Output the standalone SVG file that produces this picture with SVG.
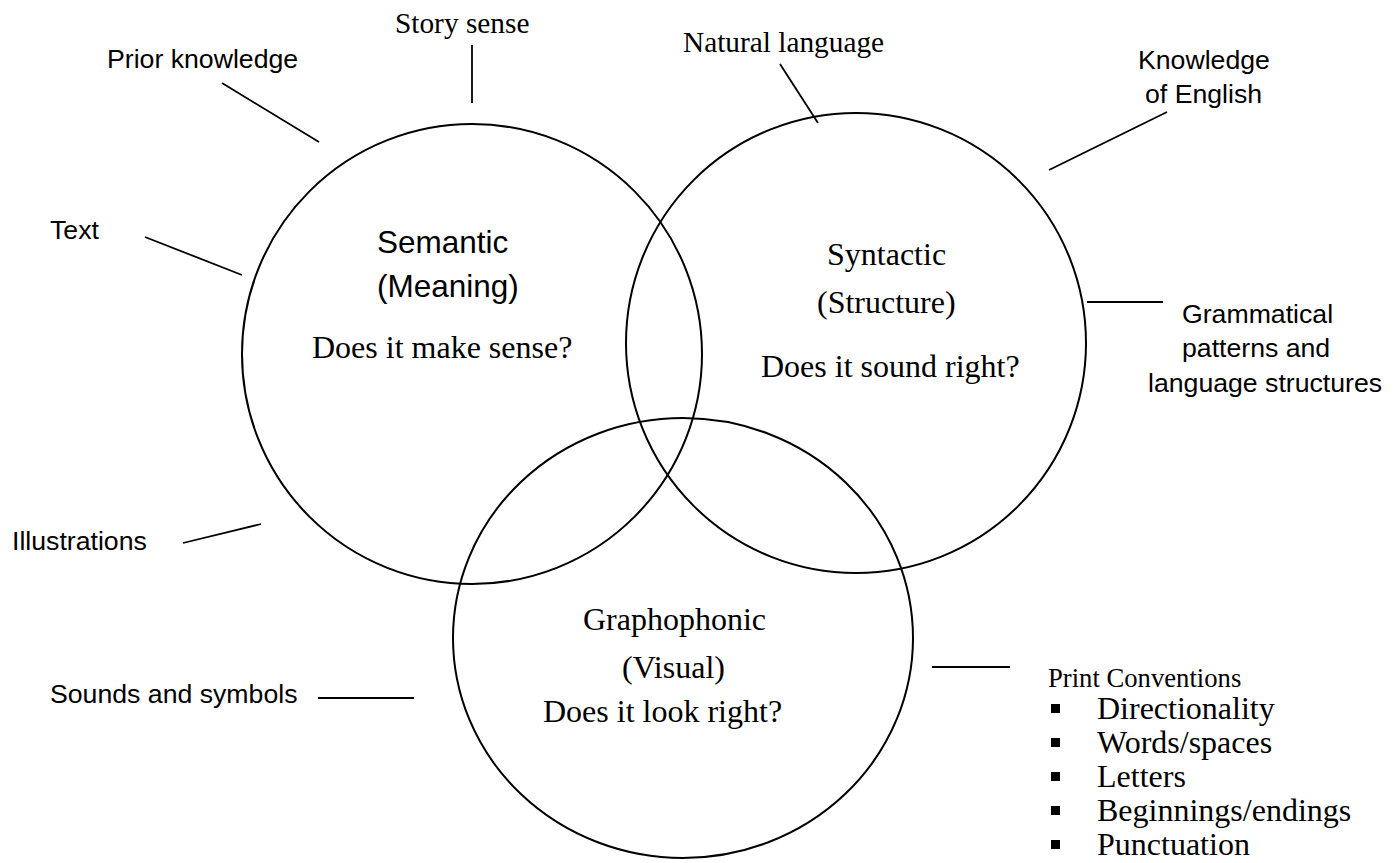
<svg xmlns="http://www.w3.org/2000/svg" width="1395" height="863" viewBox="0 0 1395 863">
<style>
.c{fill:none;stroke:#000;stroke-width:2}
.l{stroke:#000;stroke-width:1.8;fill:none}
.s{font-family:"Liberation Sans",Arial,sans-serif;fill:#000}
.t{font-family:"Liberation Serif","Times New Roman",serif;fill:#000}
.a{font-size:26.67px}
.b{font-size:32px}
.m{font-size:29.33px}
</style>
<rect width="1395" height="863" fill="#fff"/>
<g id="semantic">
<circle class="c" cx="472" cy="354" r="230"/>
<text class="s" x="377" y="253" style="font-size:31.5px">Semantic</text>
<text class="s" x="377" y="297" style="font-size:31.5px">(Meaning)</text>
<text class="t b" x="312" y="358">Does it make sense?</text>
</g>
<g id="syntactic">
<circle class="c" cx="856" cy="343" r="230"/>
<text class="t b" x="827" y="265">Syntactic</text>
<text class="t b" x="817" y="313">(Structure)</text>
<text class="t b" x="761" y="377">Does it sound right?</text>
</g>
<g id="graphophonic">
<ellipse class="c" cx="683" cy="638" rx="230" ry="220"/>
<text class="t b" x="583" y="630">Graphophonic</text>
<text class="t b" x="622" y="678">(Visual)</text>
<text class="t b" x="543" y="722">Does it look right?</text>
</g>
<g id="connectors">
<line class="l" x1="222" y1="83" x2="319" y2="142"/>
<line class="l" x1="472" y1="45" x2="472" y2="103"/>
<line class="l" x1="145" y1="237" x2="242" y2="275"/>
<line class="l" x1="183" y1="543" x2="261" y2="524"/>
<line class="l" x1="318" y1="698" x2="414" y2="698"/>
<line class="l" x1="780" y1="64" x2="818" y2="123"/>
<line class="l" x1="1167" y1="112" x2="1049" y2="170"/>
<line class="l" x1="1087" y1="302" x2="1163" y2="302"/>
<line class="l" x1="932" y1="667" x2="1010" y2="667"/>
</g>
<g id="label-story-sense"><text class="t m" x="395" y="33">Story sense</text></g>
<g id="label-prior-knowledge"><text class="s a" x="107" y="68">Prior knowledge</text></g>
<g id="label-text"><text class="s a" x="50" y="239">Text</text></g>
<g id="label-illustrations"><text class="s a" x="12" y="550">Illustrations</text></g>
<g id="label-sounds"><text class="s a" x="50" y="703">Sounds and symbols</text></g>
<g id="label-natural-language"><text class="t m" x="683" y="52">Natural language</text></g>
<g id="label-knowledge-english">
<text class="s a" x="1138" y="69">Knowledge</text>
<text class="s a" x="1145" y="103">of English</text>
</g>
<g id="label-grammatical">
<text class="s a" x="1182" y="323">Grammatical</text>
<text class="s a" x="1182" y="357">patterns and</text>
<text class="s a" x="1148" y="392">language structures</text>
</g>
<g id="label-print-conventions">
<text class="t a" x="1048" y="687">Print Conventions</text>
<rect x="1051" y="704" width="9" height="9"/>
<text class="t b" x="1097" y="719">Directionality</text>
<rect x="1051" y="738" width="9" height="9"/>
<text class="t b" x="1097" y="753">Words/spaces</text>
<rect x="1051" y="772" width="9" height="9"/>
<text class="t b" x="1097" y="787">Letters</text>
<rect x="1051" y="806" width="9" height="9"/>
<text class="t b" x="1097" y="821">Beginnings/endings</text>
<rect x="1051" y="840" width="9" height="9"/>
<text class="t b" x="1097" y="855">Punctuation</text>
</g>
</svg>
